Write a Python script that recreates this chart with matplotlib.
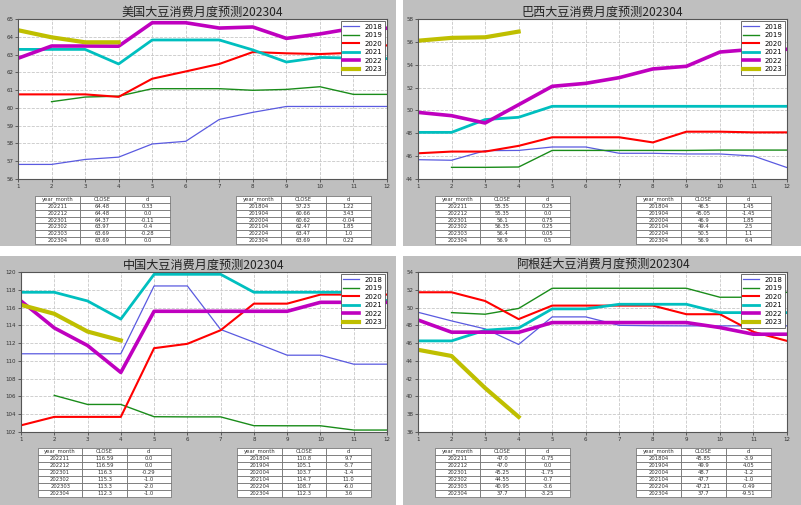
import numpy as np
import matplotlib
matplotlib.use("Agg")
import matplotlib.pyplot as plt
from matplotlib.patches import Rectangle

nan = np.nan
months = list(range(1, 13))
years = ["2018", "2019", "2020", "2021", "2022", "2023"]
colors = ["#5a5ae0", "#1a8c1a", "#ff0000", "#00bfbf", "#bf00bf", "#bfbf00"]
widths = [0.9, 1.0, 1.5, 2.0, 2.6, 3.0]

titles = ["美国大豆消费月度预测202304", "巴西大豆消费月度预测202304",
          "中国大豆消费月度预测202304", "阿根廷大豆消费月度预测202304"]

us = {
    "2018": [56.82, 56.82, 57.1, 57.23, 57.97, 58.12, 59.35, 59.75, 60.08, 60.08, 60.08, 60.08],
    "2019": [nan, 60.35, 60.61, 60.66, 61.08, 61.08, 61.08, 60.99, 61.04, 61.19, 60.76, 60.76],
    "2020": [60.76, 60.76, 60.76, 60.62, 61.64, 62.05, 62.47, 63.14, 63.07, 63.03, 63.1, 63.52],
    "2021": [63.29, 63.29, 63.29, 62.47, 63.82, 63.82, 63.82, 63.26, 62.58, 62.84, 62.8, 62.77],
    "2022": [62.79, 63.48, 63.48, 63.47, 64.79, 64.79, 64.49, 64.55, 63.91, 64.16, 64.48, 64.48],
    "2023": [64.37, 63.97, 63.69, 63.69] + [nan] * 8,
}
br = {
    "2018": [45.69, 45.64, 46.48, 46.5, 46.8, 46.8, 46.25, 46.25, 46.19, 46.19, 46.01, 45.0],
    "2019": [nan, 45.02, 45.02, 45.05, 46.5, 46.5, 46.5, 46.5, 46.5, 46.53, 46.53, 46.53],
    "2020": [46.25, 46.4, 46.4, 46.9, 47.65, 47.65, 47.65, 47.2, 48.14, 48.14, 48.08, 48.08],
    "2021": [48.08, 48.08, 49.2, 49.4, 50.36, 50.36, 50.36, 50.36, 50.36, 50.36, 50.36, 50.36],
    "2022": [49.83, 49.54, 48.9, 50.5, 52.11, 52.37, 52.87, 53.63, 53.86, 55.11, 55.35, 55.35],
    "2023": [56.1, 56.35, 56.4, 56.9] + [nan] * 8,
}
cn = {
    "2018": [110.8, 110.8, 110.8, 110.8, 118.43, 118.43, 113.53, 112.1, 110.64, 110.64, 109.63, 109.63],
    "2019": [nan, 106.12, 105.1, 105.1, 103.72, 103.7, 103.7, 102.71, 102.7, 102.7, 102.22, 102.22],
    "2020": [102.75, 103.7, 103.7, 103.7, 111.43, 111.92, 113.45, 116.44, 116.44, 117.46, 117.46, 117.46],
    "2021": [117.72, 117.72, 116.74, 114.7, 119.74, 119.74, 119.74, 117.72, 117.72, 117.72, 117.72, 116.78],
    "2022": [116.74, 113.71, 111.73, 108.7, 115.58, 115.58, 115.58, 115.58, 115.58, 116.59, 116.59, 116.59],
    "2023": [116.3, 115.3, 113.3, 112.3] + [nan] * 8,
}
ar = {
    "2018": [49.47, 48.5, 47.6, 45.85, 48.95, 48.95, 48.0, 47.95, 47.94, 47.94, 47.94, 47.94],
    "2019": [nan, 49.43, 49.25, 49.9, 52.17, 52.17, 52.17, 52.17, 52.17, 51.16, 51.16, 51.72],
    "2020": [51.72, 51.72, 50.74, 48.7, 50.22, 50.22, 50.22, 50.22, 49.25, 49.25, 47.26, 46.25],
    "2021": [46.25, 46.25, 47.45, 47.7, 49.85, 49.85, 50.37, 50.37, 50.37, 49.43, 49.43, 49.43],
    "2022": [48.6, 47.23, 47.23, 47.21, 48.31, 48.31, 48.31, 48.31, 48.31, 47.75, 47.0, 47.0],
    "2023": [45.25, 44.55, 40.95, 37.7] + [nan] * 8,
}

col_labels = ["year_month", "CLOSE", "d"]
recent_months = ["202211", "202212", "202301", "202302", "202303", "202304"]
april_months = ["201804", "201904", "202004", "202104", "202204", "202304"]

us_recent_close = ["64.48", "64.48", "64.37", "63.97", "63.69", "63.69"]
us_recent_d = ["0.33", "0.0", "-0.11", "-0.4", "-0.28", "0.0"]
us_april_close = ["57.23", "60.66", "60.62", "62.47", "63.47", "63.69"]
us_april_d = ["1.22", "3.43", "-0.04", "1.85", "1.0", "0.22"]

br_recent_close = ["55.35", "55.35", "56.1", "56.35", "56.4", "56.9"]
br_recent_d = ["0.25", "0.0", "0.75", "0.25", "0.05", "0.5"]
br_april_close = ["46.5", "45.05", "46.9", "49.4", "50.5", "56.9"]
br_april_d = ["1.45", "-1.45", "1.85", "2.5", "1.1", "6.4"]

cn_recent_close = ["116.59", "116.59", "116.3", "115.3", "113.3", "112.3"]
cn_recent_d = ["0.0", "0.0", "-0.29", "-1.0", "-2.0", "-1.0"]
cn_april_close = ["110.8", "105.1", "103.7", "114.7", "108.7", "112.3"]
cn_april_d = ["9.7", "-5.7", "-1.4", "11.0", "-6.0", "3.6"]

ar_recent_close = ["47.0", "47.0", "45.25", "44.55", "40.95", "37.7"]
ar_recent_d = ["-0.75", "0.0", "-1.75", "-0.7", "-3.6", "-3.25"]
ar_april_close = ["45.85", "49.9", "48.7", "47.7", "47.21", "37.7"]
ar_april_d = ["-3.9", "4.05", "-1.2", "-1.0", "-0.49", "-9.51"]

W, H = 801, 505
fig = plt.figure(figsize=(W / 100, H / 100), dpi=100, facecolor="white")


def rect(x, y, w, h):
    return [x / W, 1 - (y + h) / H, w / W, h / H]


panels = [(0, 0, 396, 246), (403, 0, 398, 246), (0, 256, 396, 249), (403, 256, 398, 249)]
for (px, py, pw, ph) in panels:
    fig.patches.append(Rectangle((px / W, 1 - (py + ph) / H), pw / W, ph / H,
                                 transform=fig.transFigure, facecolor="#bfbfbf",
                                 edgecolor="none", zorder=-5))

datasets = [us, br, cn, ar]
ylims = [(56, 65, 1), (44, 58, 2), (102, 120, 2), (36, 54, 2)]
axes_rects = [(18, 19, 369, 160), (418, 19, 369, 160), (21, 272, 366, 160), (418, 272, 369, 160)]
tables = [
    ((us_recent_close, us_recent_d), (us_april_close, us_april_d)),
    ((br_recent_close, br_recent_d), (br_april_close, br_april_d)),
    ((cn_recent_close, cn_recent_d), (cn_april_close, cn_april_d)),
    ((ar_recent_close, ar_recent_d), (ar_april_close, ar_april_d)),
]
table_pos = [
    ((35, 196, 135, 48), (236, 196, 135, 48)),
    ((435, 196, 135, 48), (636, 196, 135, 48)),
    ((38, 448, 133, 49), (237, 448, 134, 49)),
    ((435, 448, 135, 49), (636, 448, 135, 49)),
]

for i in range(4):
    ax = fig.add_axes(rect(*axes_rects[i]))
    ax.set_facecolor("white")
    data = datasets[i]
    for y, c, lw in zip(years, colors, widths):
        ax.plot(months, data[y], color=c, lw=lw, label=y)
    lo, hi, st = ylims[i]
    ax.set_ylim(lo, hi)
    ax.set_yticks(np.arange(lo, hi + 0.01, st))
    ax.set_xlim(1, 12)
    ax.set_xticks(months)
    ax.tick_params(labelsize=4, length=2, width=0.5, pad=1.5, colors="#333333")
    ax.grid(True, linestyle="--", color="#c8c8c8", linewidth=0.6)
    for s in ax.spines.values():
        s.set_color("#555555")
        s.set_linewidth(0.8)
    ax.set_title(titles[i], fontsize=8.7, pad=1.5,
                 family=["Noto Sans CJK SC", "DejaVu Sans"], color="#222222")
    leg = ax.legend(loc="upper right", fontsize=5, handlelength=2.2,
                    borderpad=0.4, labelspacing=0.35, fancybox=False,
                    framealpha=1, borderaxespad=0.3)
    leg.get_frame().set_edgecolor("#555555")
    leg.get_frame().set_linewidth(0.6)

    for (close, d), months_lbl, pos in zip(tables[i], [recent_months, april_months], table_pos[i]):
        tax = fig.add_axes(rect(*pos))
        tax.axis("off")
        rows = [[m, c, dv] for m, c, dv in zip(months_lbl, close, d)]
        tb = tax.table(cellText=rows, colLabels=col_labels, cellLoc="center",
                       bbox=[0, 0, 1, 1])
        tb.auto_set_font_size(False)
        tb.set_fontsize(3.8)
        for cell in tb.get_celld().values():
            cell.set_edgecolor("#666666")
            cell.set_linewidth(0.5)
            cell.set_facecolor("white")
            cell.get_text().set_color("#333333")

fig.savefig("out.png", dpi=100, facecolor="white")
